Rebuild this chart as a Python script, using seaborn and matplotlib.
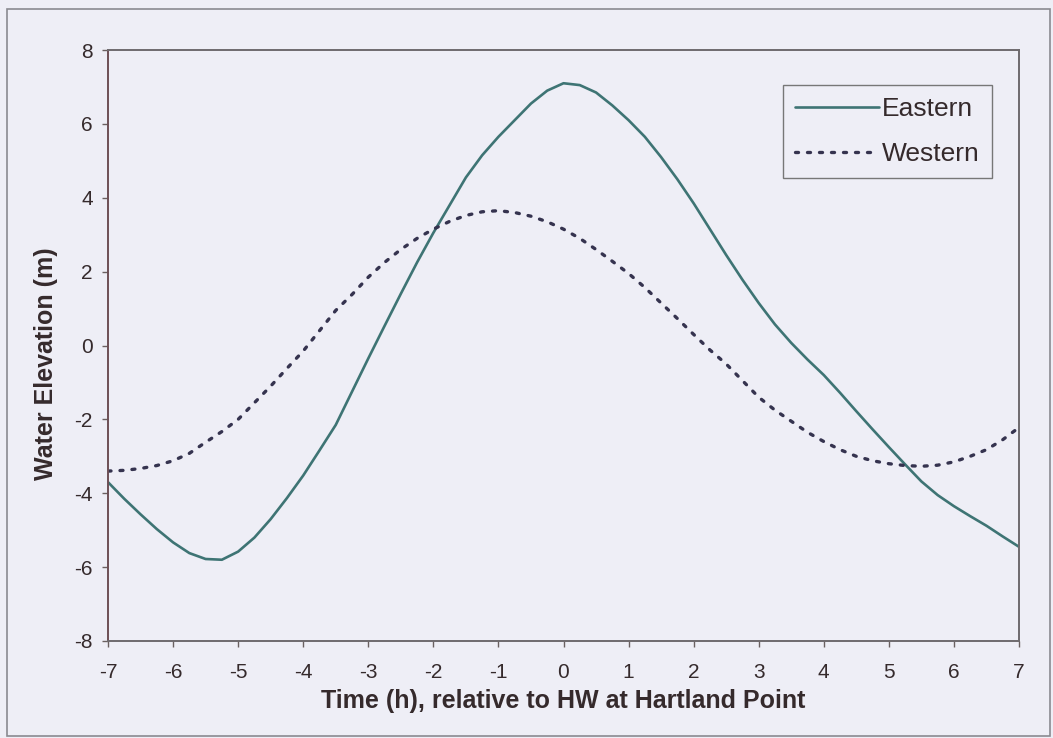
import numpy as np
import pandas as pd
import matplotlib
matplotlib.use("Agg")
import matplotlib.pyplot as plt
import seaborn as sns
from matplotlib.patches import Rectangle

# ---- data (every 15 min) ----
time_h = [-7.00, -6.75, -6.50, -6.25, -6.00, -5.75, -5.50, -5.25, -5.00, -4.75, -4.50, -4.25,
          -4.00, -3.75, -3.50, -3.25, -3.00, -2.75, -2.50, -2.25, -2.00, -1.75, -1.50, -1.25,
          -1.00, -0.75, -0.50, -0.25, 0.00, 0.25, 0.50, 0.75, 1.00, 1.25, 1.50, 1.75,
          2.00, 2.25, 2.50, 2.75, 3.00, 3.25, 3.50, 3.75, 4.00, 4.25, 4.50, 4.75,
          5.00, 5.25, 5.50, 5.75, 6.00, 6.25, 6.50, 6.75, 7.00]
eastern = [-3.70, -4.15, -4.57, -4.97, -5.33, -5.62, -5.78, -5.80, -5.58, -5.20, -4.70, -4.13,
           -3.52, -2.84, -2.15, -1.25, -0.35, 0.53, 1.40, 2.25, 3.05, 3.80, 4.55, 5.15,
           5.65, 6.10, 6.55, 6.90, 7.10, 7.05, 6.85, 6.50, 6.10, 5.65, 5.10, 4.50,
           3.85, 3.15, 2.45, 1.78, 1.15, 0.57, 0.07, -0.38, -0.80, -1.28, -1.78, -2.27,
           -2.75, -3.22, -3.68, -4.05, -4.35, -4.62, -4.88, -5.17, -5.45]
western = [-3.40, -3.38, -3.33, -3.25, -3.12, -2.92, -2.62, -2.33, -2.00, -1.55, -1.10, -0.62,
           -0.15, 0.40, 0.95, 1.38, 1.85, 2.25, 2.60, 2.90, 3.15, 3.36, 3.52, 3.62,
           3.65, 3.60, 3.50, 3.35, 3.15, 2.90, 2.60, 2.28, 1.95, 1.57, 1.15, 0.73,
           0.30, -0.12, -0.50, -0.95, -1.40, -1.75, -2.05, -2.35, -2.60, -2.82, -3.00, -3.12,
           -3.20, -3.25, -3.27, -3.24, -3.15, -3.00, -2.82, -2.55, -2.22]
series_names = ["Eastern", "Western"]
x_ticks = list(range(-7, 8))
y_ticks = list(range(-8, 9, 2))
x_label = "Time (h), relative to HW at Hartland Point"
y_label = "Water Elevation (m)"

df = pd.DataFrame({
    "t": time_h * 2,
    "v": eastern + western,
    "series": [series_names[0]] * len(time_h) + [series_names[1]] * len(time_h),
})

sns.set_theme(style="white")
plt.rcParams["font.family"] = ["Liberation Sans", "DejaVu Sans"]
plt.rcParams["axes.unicode_minus"] = False

BG = "#eeeef6"
TXT = "#352a2c"
fig = plt.figure(figsize=(10.53, 7.38), dpi=100, facecolor=BG)
ax = fig.add_axes([108 / 1053, 1 - 641 / 738, (1019 - 108) / 1053, (641 - 50) / 738])
ax.set_facecolor(BG)

sns.lineplot(data=df[df.series == "Eastern"], x="t", y="v", ax=ax, color="#3e7474",
             linewidth=1.9, label="Eastern", sort=False)
sns.lineplot(data=df[df.series == "Western"], x="t", y="v", ax=ax, color="#35334f",
             linewidth=2.4, label="Western", sort=False,
             linestyle=(0, (0.9, 2.7)), dash_capstyle="round")

ax.set_xlim(-7, 7)
ax.set_ylim(-8, 8)
ax.set_xticks(x_ticks)
ax.set_yticks(y_ticks)
ax.tick_params(axis="both", which="major", direction="out", length=4, width=1.0,
               colors="#6a6060", labelcolor=TXT, labelsize=15, pad=7,
               bottom=True, left=True)
ax.tick_params(axis="x", pad=12)

for side, sp in ax.spines.items():
    sp.set_visible(True)
    sp.set_linewidth(1.4)
    sp.set_color("#6e6a6e")
ax.spines["left"].set_color("#6d4f55")

ax.set_xlabel(x_label, fontsize=18, fontweight="bold", color=TXT, labelpad=5)
ax.set_ylabel(y_label, fontsize=18, fontweight="bold", color=TXT)
ax.yaxis.set_label_coords(-0.055, 0.47)

leg = ax.legend(loc="upper right", bbox_to_anchor=(0.970, 0.941), borderaxespad=0,
                fontsize=19, frameon=True, fancybox=False, handlelength=3.2,
                handletextpad=0.1, borderpad=0.45, labelspacing=0.8,
                labelcolor=TXT)
leg.get_frame().set_edgecolor("#777777")
leg.get_frame().set_linewidth(1.0)
leg.get_frame().set_facecolor(BG)
leg.get_frame().set_alpha(1)

# outer chart-area frame
fig.patches.append(Rectangle((7 / 1053, 2 / 738), 1043 / 1053, 727 / 738,
                             transform=fig.transFigure, fill=False,
                             edgecolor="#8a8a90", linewidth=1.2))

fig.savefig("out.png", dpi=100, facecolor=BG)
